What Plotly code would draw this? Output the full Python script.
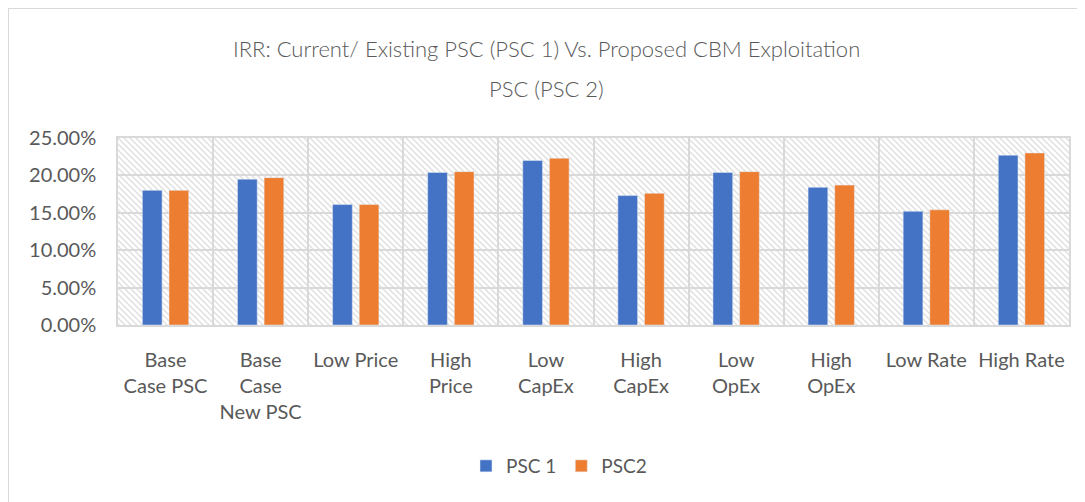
import base64
import plotly.graph_objects as go

categories = ["Base<br>Case PSC", "Base<br>Case<br>New PSC", "Low Price", "High<br>Price",
              "Low<br>CapEx", "High<br>CapEx", "Low<br>OpEx", "High<br>OpEx", "Low Rate", "High Rate"]
psc1 = [0.180, 0.195, 0.161, 0.204, 0.220, 0.173, 0.204, 0.184, 0.152, 0.227]
psc2 = [0.180, 0.197, 0.161, 0.205, 0.223, 0.176, 0.205, 0.187, 0.154, 0.230]
series_names = ["PSC 1", "PSC2"]
y_ticks = [0, 0.05, 0.10, 0.15, 0.20, 0.25]
title_lines = ["IRR: Current/ Existing PSC (PSC 1) Vs. Proposed CBM Exploitation", "PSC (PSC 2)"]

OFF = 8  # page body margin
W, H = 1085 - OFF, 502 - OFF
ml, mr, mt, mb = 118 - OFF, 16, 138 - OFF, 177
pw, ph = W - ml - mr, H - mt - mb

svg = f'''<svg xmlns="http://www.w3.org/2000/svg" width="{pw}" height="{ph}">
<defs><pattern id="p" width="6" height="6" patternUnits="userSpaceOnUse">
<path d="M-1,-1 L7,7 M-4,2 L4,10 M2,-4 L10,4" stroke="#e0e0e0" stroke-width="1.5"/>
</pattern></defs>
<rect width="{pw}" height="{ph}" fill="white"/>
<rect width="{pw}" height="{ph}" fill="url(#p)"/>
</svg>'''
src = "data:image/svg+xml;base64," + base64.b64encode(svg.encode()).decode()

font = "Lato, 'Open Sans', sans-serif"
grey = "#595959"

def py(pix):  # screen pixel y -> paper y
    return (H - mb - (pix - OFF)) / ph

def px(pix):  # screen pixel x -> paper x
    return (pix - OFF - ml) / pw

fig = go.Figure()
fig.add_trace(go.Bar(x=categories, y=psc1, name=series_names[0], marker_color="#4472C4"))
fig.add_trace(go.Bar(x=categories, y=psc2, name=series_names[1], marker_color="#ED7D31"))

fig.update_layout(
    width=W, height=H,
    margin=dict(l=ml, r=mr, t=mt, b=mb),
    paper_bgcolor="white", plot_bgcolor="rgba(0,0,0,0)",
    barmode="group", bargap=0.44, bargroupgap=0.26,
    font=dict(family=font, color=grey, size=20),
    showlegend=True,
    legend=dict(orientation="h", x=px(559), xanchor="center", y=py(466), yanchor="middle",
                font=dict(size=19, color=grey), itemwidth=30),
    annotations=[
        dict(text=title_lines[0], xref="paper", yref="paper", x=px(546), y=py(48),
             xanchor="center", yanchor="middle", showarrow=False,
             font=dict(family=font, size=22, color=grey, weight=300)),
        dict(text=title_lines[1], xref="paper", yref="paper", x=px(546), y=py(88),
             xanchor="center", yanchor="middle", showarrow=False,
             font=dict(family=font, size=22, color=grey, weight=300)),
    ],
    images=[dict(source=src, xref="paper", yref="paper", x=0, y=1, sizex=1, sizey=1,
                 xanchor="left", yanchor="top", sizing="stretch", layer="below")],
    shapes=[
        dict(type="line", xref="paper", yref="paper", x0=-ml / pw, x1=1 + mr / pw,
             y0=1 + (mt - 0.5) / ph, y1=1 + (mt - 0.5) / ph, line=dict(color="#d9d9d9", width=1)),
        dict(type="line", xref="paper", yref="paper", x0=-(ml - 0.5) / pw, x1=-(ml - 0.5) / pw,
             y0=1 + mt / ph, y1=-mb / ph, line=dict(color="#d9d9d9", width=1)),
    ],
)
fig.update_xaxes(showgrid=True, gridcolor="#d9d9d9", gridwidth=1.5, tickson="boundaries",
                 showline=True, linecolor="#d9d9d9", linewidth=1.5, mirror=True,
                 ticks="", ticklabelstandoff=16, tickfont=dict(size=20, color=grey),
                 tickangle=0)
fig.update_yaxes(range=[0, 0.25], tickvals=y_ticks, tickformat=".2%",
                 showgrid=True, gridcolor="#d9d9d9", gridwidth=1.5, zeroline=False,
                 showline=True, linecolor="#d9d9d9", linewidth=1.5, mirror=True,
                 ticks="", ticklabelstandoff=16, tickfont=dict(size=20, color=grey))

fig.write_html("out.html")
